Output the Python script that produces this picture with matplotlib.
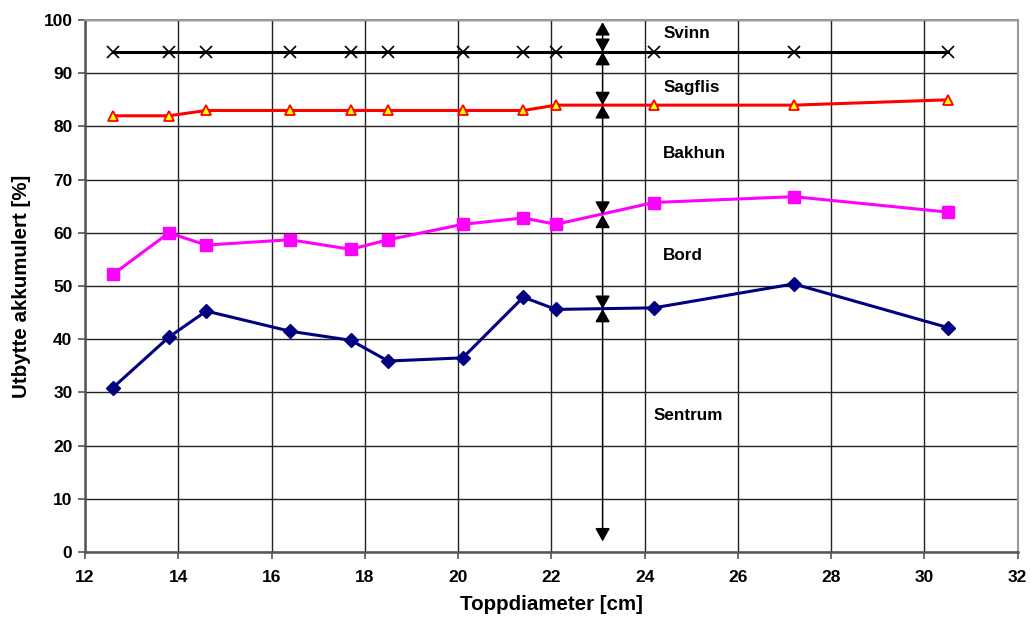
import matplotlib.pyplot as plt

plt.rcParams['font.family'] = ['Liberation Sans', 'DejaVu Sans']
plt.rcParams['font.weight'] = 'bold'

# toppdiameter [cm] for each sample
diam = [12.6, 13.8, 14.6, 16.4, 17.7, 18.5, 20.1, 21.4, 22.1, 24.2, 27.2, 30.5]

# accumulated yield [%]
sentrum = [30.9, 40.4, 45.3, 41.5, 39.8, 35.9, 36.5, 47.9, 45.6, 45.9, 50.4, 42.2]
bord = [52.2, 60.0, 57.7, 58.7, 56.9, 58.7, 61.6, 62.8, 61.6, 65.7, 66.8, 63.9]
sagflis = [82, 82, 83, 83, 83, 83, 83, 83, 84, 84, 84, 85]
svinn = [94] * 12

# fraction boundaries along the marker arrow at x = 23.1
arrow_x = 23.1
bounds = [2, 45.7, 63.4, 84, 94, 99.6]
fractions = ['Sentrum', 'Bord', 'Bakhun', 'Sagflis', 'Svinn']
label_pos = [(24.2, 25.6), (24.4, 55.7), (24.4, 75.0), (24.4, 87.4), (24.4, 97.4)]

fig = plt.figure(figsize=(10.3, 6.22), dpi=100)
ax = fig.add_axes([0.0825, 0.1125, 0.9055, 0.8553])

ax.plot(diam, sentrum, color='#000080', lw=2.2, marker='D', ms=7, zorder=4)
ax.plot(diam, bord, color='#ff00ff', lw=2.2, marker='s', ms=9, zorder=4)
ax.plot(diam, sagflis, color='#ff0000', lw=2.2, marker='^', ms=7,
        mfc='#ffff00', mec='#ff0000', mew=1.3, zorder=4)
ax.plot(diam, svinn, color='black', lw=2.2, marker='x', ms=9, mew=1.2, zorder=4)

for lo, hi in zip(bounds[:-1], bounds[1:]):
    ax.annotate('', xy=(arrow_x, hi), xytext=(arrow_x, lo),
                arrowprops=dict(arrowstyle='<|-|>,head_length=0.8,head_width=0.45',
                                color='black', lw=1.1, shrinkA=0, shrinkB=0),
                zorder=5)

for name, (tx, ty) in zip(fractions, label_pos):
    ax.text(tx, ty, name, fontsize=12.3, fontweight='bold', va='center', ha='left')

ax.set_xlim(12, 32)
ax.set_ylim(0, 100)
ax.set_xticks(range(12, 33, 2))
ax.set_yticks(range(0, 101, 10))
ax.grid(True, color='#222222', lw=1.0)
ax.set_axisbelow(True)

for side in ['left', 'bottom']:
    ax.spines[side].set_color('#555555')
    ax.spines[side].set_linewidth(1.8)
for side in ['top', 'right']:
    ax.spines[side].set_color('#999999')
    ax.spines[side].set_linewidth(1.5)

ax.tick_params(direction='out', length=5, width=1.2, color='#555555',
               labelsize=12.5, pad=4)
for lab in ax.get_xticklabels() + ax.get_yticklabels():
    lab.set_fontweight('bold')
ax.tick_params(axis='x', pad=8)

ax.set_xlabel('Toppdiameter [cm]', fontsize=14.8, fontweight='bold', labelpad=7)
ax.set_ylabel('Utbytte akkumulert [%]', fontsize=14.8, fontweight='bold', labelpad=9)

fig.savefig('out.png', dpi=100)
